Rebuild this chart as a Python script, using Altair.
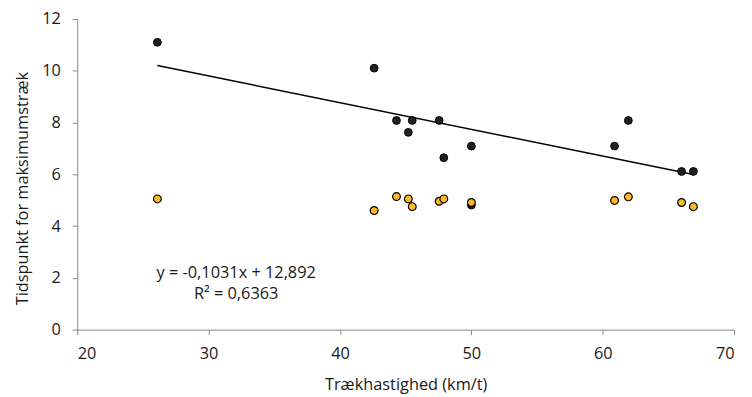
import altair as alt
import pandas as pd

# black series (Tidspunkt for maksimumstræk)
black_x = [26.1, 42.6, 44.3, 45.5, 45.2, 47.55, 47.9, 50.0, 50.0, 60.9, 61.95, 66.0, 66.9]
black_y = [11.1, 10.1, 8.08, 8.08, 7.62, 8.08, 6.64, 7.09, 4.81, 7.09, 8.08, 6.11, 6.11]
# yellow series
yellow_x = [26.1, 42.6, 44.3, 45.2, 45.5, 47.55, 47.9, 50.0, 60.9, 61.95, 66.0, 66.9]
yellow_y = [5.05, 4.60, 5.14, 5.05, 4.75, 4.96, 5.05, 4.91, 4.99, 5.13, 4.91, 4.75]

# trendline (Excel linear fit)
slope = -0.1031
intercept = 12.892
eq_lines = ["y = -0,1031x + 12,892", "R² = 0,6363"]
eq_x = [32.1, 32.1]
eq_y = [2.2, 1.37]

FONT = "Open Sans"
FS = 16.5
TXT = "#1a1a1a"

black_df = pd.DataFrame({"x": black_x, "y": black_y})
yellow_df = pd.DataFrame({"x": yellow_x, "y": yellow_y})
xmin, xmax = min(black_x), max(black_x)
trend_df = pd.DataFrame({"x": [xmin, xmax], "y": [slope * xmin + intercept, slope * xmax + intercept]})
eq_df = pd.DataFrame({"x": eq_x, "y": eq_y, "t": eq_lines})

xscale = alt.Scale(domain=[20, 70], nice=False, zero=False)
yscale = alt.Scale(domain=[0, 12], nice=False)

xaxis = alt.Axis(values=[20, 30, 40, 50, 60, 70], grid=False, domainColor="#898989", tickColor="#898989",
                 tickSize=5, labelFont=FONT, labelFontSize=FS, labelColor=TXT, labelPadding=11,
                 titleFont=FONT, titleFontSize=FS, titleFontWeight="normal", titleColor=TXT,
                 titleY=56, titleBaseline="middle")
yaxis = alt.Axis(values=[0, 2, 4, 6, 8, 10, 12], grid=False, domainColor="#898989", tickColor="#898989",
                 tickSize=5, labelFont=FONT, labelFontSize=FS, labelColor=TXT, labelPadding=12,
                 titleFont=FONT, titleFontSize=FS, titleFontWeight="normal", titleColor=TXT,
                 titleX=-55, titleY=171, titleBaseline="middle")

trend = alt.Chart(trend_df).mark_line(color="black", strokeWidth=1.5).encode(
    x=alt.X("x:Q", scale=xscale, axis=xaxis, title="Trækhastighed (km/t)"),
    y=alt.Y("y:Q", scale=yscale, axis=yaxis, title="Tidspunkt for maksimumstræk"),
)
blk = alt.Chart(black_df).mark_point(filled=True, shape="circle", size=62, fill="#231f20",
                                     stroke="black", strokeWidth=1, opacity=1).encode(x="x:Q", y="y:Q")
yel = alt.Chart(yellow_df).mark_point(filled=True, shape="circle", size=62, fill="#fbb927",
                                      stroke="black", strokeWidth=1.2, opacity=1).encode(x="x:Q", y="y:Q")
txt = alt.Chart(eq_df).mark_text(align="center", baseline="middle", font=FONT, fontSize=FS,
                                 color=TXT).encode(x="x:Q", y="y:Q", text="t:N")

chart = alt.layer(trend, blk, yel, txt).properties(
    width=664, height=314,
    autosize=alt.AutoSizeParams(type="none"),
    padding={"left": 70, "top": 9, "right": 10, "bottom": 66},
).configure_view(stroke=None)

chart.save("out.html", embed_options={"renderer": "svg", "actions": False})
